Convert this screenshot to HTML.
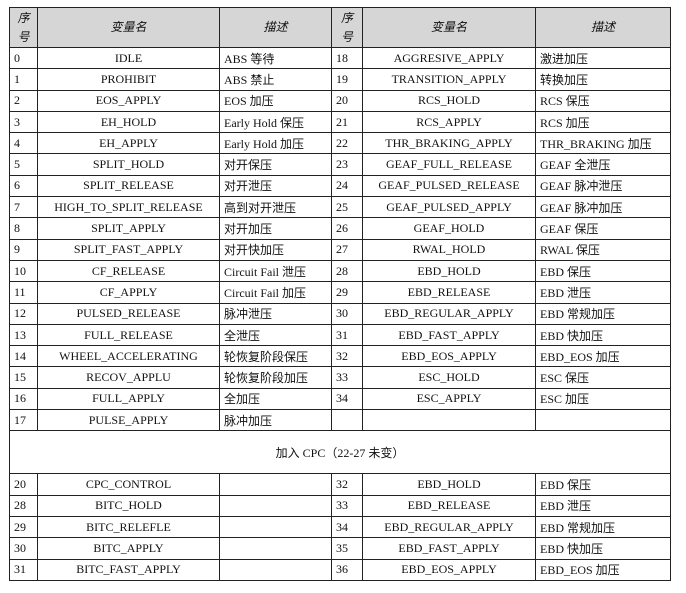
<!DOCTYPE html>
<html><head><meta charset="utf-8"><style>
body{margin:0;background:#fff;width:686px;height:593px;overflow:hidden}
table{position:absolute;left:9px;top:7px;border-collapse:collapse;table-layout:fixed;font-family:"Liberation Serif","Noto Sans CJK SC",serif;font-size:12px;color:#111}
td,th{border:1px solid #222;padding:0 0 0 4px;height:20.3px;white-space:nowrap;overflow:hidden;font-weight:normal}
th{background:#d6d6d6;font-style:italic;height:39px;text-align:center;padding:0;line-height:19px}
td.c{text-align:center;padding:0}
td.m{height:42px;text-align:center;padding:0}
</style></head><body>
<table>
<colgroup><col style="width:28px"><col style="width:182px"><col style="width:112px"><col style="width:31px"><col style="width:173px"><col style="width:135px"></colgroup>
<thead><tr><th>序<br>号</th><th>变量名</th><th>描述</th><th>序<br>号</th><th>变量名</th><th>描述</th></tr></thead>
<tbody>
<tr><td>0</td><td class="c">IDLE</td><td>ABS 等待</td><td>18</td><td class="c">AGGRESIVE_APPLY</td><td>激进加压</td></tr>
<tr><td>1</td><td class="c">PROHIBIT</td><td>ABS 禁止</td><td>19</td><td class="c">TRANSITION_APPLY</td><td>转换加压</td></tr>
<tr><td>2</td><td class="c">EOS_APPLY</td><td>EOS 加压</td><td>20</td><td class="c">RCS_HOLD</td><td>RCS 保压</td></tr>
<tr><td>3</td><td class="c">EH_HOLD</td><td>Early Hold 保压</td><td>21</td><td class="c">RCS_APPLY</td><td>RCS 加压</td></tr>
<tr><td>4</td><td class="c">EH_APPLY</td><td>Early Hold 加压</td><td>22</td><td class="c">THR_BRAKING_APPLY</td><td>THR_BRAKING 加压</td></tr>
<tr><td>5</td><td class="c">SPLIT_HOLD</td><td>对开保压</td><td>23</td><td class="c">GEAF_FULL_RELEASE</td><td>GEAF 全泄压</td></tr>
<tr><td>6</td><td class="c">SPLIT_RELEASE</td><td>对开泄压</td><td>24</td><td class="c">GEAF_PULSED_RELEASE</td><td>GEAF 脉冲泄压</td></tr>
<tr><td>7</td><td class="c">HIGH_TO_SPLIT_RELEASE</td><td>高到对开泄压</td><td>25</td><td class="c">GEAF_PULSED_APPLY</td><td>GEAF 脉冲加压</td></tr>
<tr><td>8</td><td class="c">SPLIT_APPLY</td><td>对开加压</td><td>26</td><td class="c">GEAF_HOLD</td><td>GEAF 保压</td></tr>
<tr><td>9</td><td class="c">SPLIT_FAST_APPLY</td><td>对开快加压</td><td>27</td><td class="c">RWAL_HOLD</td><td>RWAL 保压</td></tr>
<tr><td>10</td><td class="c">CF_RELEASE</td><td>Circuit Fail 泄压</td><td>28</td><td class="c">EBD_HOLD</td><td>EBD 保压</td></tr>
<tr><td>11</td><td class="c">CF_APPLY</td><td>Circuit Fail 加压</td><td>29</td><td class="c">EBD_RELEASE</td><td>EBD 泄压</td></tr>
<tr><td>12</td><td class="c">PULSED_RELEASE</td><td>脉冲泄压</td><td>30</td><td class="c">EBD_REGULAR_APPLY</td><td>EBD 常规加压</td></tr>
<tr><td>13</td><td class="c">FULL_RELEASE</td><td>全泄压</td><td>31</td><td class="c">EBD_FAST_APPLY</td><td>EBD 快加压</td></tr>
<tr><td>14</td><td class="c">WHEEL_ACCELERATING</td><td>轮恢复阶段保压</td><td>32</td><td class="c">EBD_EOS_APPLY</td><td>EBD_EOS 加压</td></tr>
<tr><td>15</td><td class="c">RECOV_APPLU</td><td>轮恢复阶段加压</td><td>33</td><td class="c">ESC_HOLD</td><td>ESC 保压</td></tr>
<tr><td>16</td><td class="c">FULL_APPLY</td><td>全加压</td><td>34</td><td class="c">ESC_APPLY</td><td>ESC 加压</td></tr>
<tr><td>17</td><td class="c">PULSE_APPLY</td><td>脉冲加压</td><td></td><td></td><td></td></tr>
<tr><td class="m" colspan="6">加入 CPC（22-27 未变）</td></tr>
<tr><td>20</td><td class="c">CPC_CONTROL</td><td></td><td>32</td><td class="c">EBD_HOLD</td><td>EBD 保压</td></tr>
<tr><td>28</td><td class="c">BITC_HOLD</td><td></td><td>33</td><td class="c">EBD_RELEASE</td><td>EBD 泄压</td></tr>
<tr><td>29</td><td class="c">BITC_RELEFLE</td><td></td><td>34</td><td class="c">EBD_REGULAR_APPLY</td><td>EBD 常规加压</td></tr>
<tr><td>30</td><td class="c">BITC_APPLY</td><td></td><td>35</td><td class="c">EBD_FAST_APPLY</td><td>EBD 快加压</td></tr>
<tr><td>31</td><td class="c">BITC_FAST_APPLY</td><td></td><td>36</td><td class="c">EBD_EOS_APPLY</td><td>EBD_EOS 加压</td></tr>
</tbody></table>
</body></html>
